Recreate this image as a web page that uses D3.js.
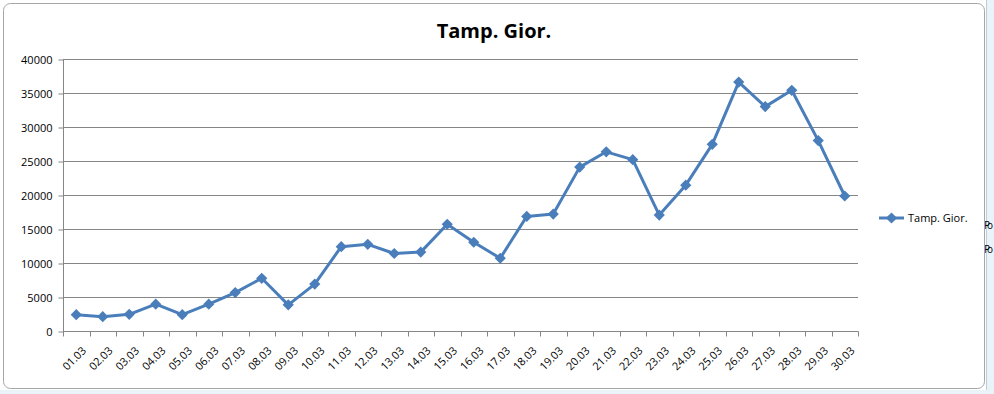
<!DOCTYPE html>
<html>
<head>
<meta charset="utf-8">
<style>
  body { margin: 0; background: #fff; }
  text { font-family: "Open Sans", "DejaVu Sans", sans-serif; fill: #000; }
  .title { font: bold 20px "Open Sans", sans-serif; }
  .axis text { font-size: 11px; }
  .axis path, .axis line { stroke: #868686; }
  .grid line { stroke: #868686; }
</style>
</head>
<body>
<script src="https://cdn.jsdelivr.net/npm/d3@7"></script>
<script>
var days = ["01.03","02.03","03.03","04.03","05.03","06.03","07.03","08.03","09.03","10.03",
            "11.03","12.03","13.03","14.03","15.03","16.03","17.03","18.03","19.03","20.03",
            "21.03","22.03","23.03","24.03","25.03","26.03","27.03","28.03","29.03","30.03"];
var values = [2400, 2100, 2450, 3950, 2400, 3950, 5650, 7750, 3850, 6900,
              12400, 12750, 11400, 11600, 15700, 13050, 10700, 16850, 17200, 24100,
              26350, 25200, 17050, 21450, 27450, 36600, 33000, 35400, 28000, 19850];
var yTicks = [0, 5000, 10000, 15000, 20000, 25000, 30000, 35000, 40000];
var seriesName = "Tamp. Gior.";
var title = "Tamp. Gior.";

var width = 994, height = 394;
var blue = "#4a7ebb";

var svg = d3.select("body").append("svg")
  .attr("width", width)
  .attr("height", height);

// spreadsheet bits around the chart object
svg.append("rect").attr("x", 986).attr("y", 0).attr("width", 8).attr("height", height).attr("fill", "#eaf4f8");
svg.append("line").attr("x1", 986.5).attr("x2", 986.5).attr("y1", 0).attr("y2", height).attr("stroke", "#b8cfd8");
svg.append("rect").attr("x", 0).attr("y", 390).attr("width", width).attr("height", 4).attr("fill", "#eaf4f8");
svg.append("text").attr("x", 984).attr("y", 229).attr("font-size", 10).attr("textLength", 9).text("Po");
svg.append("text").attr("x", 984).attr("y", 253).attr("font-size", 10).attr("textLength", 9).text("Po");

// chart border
svg.append("rect")
  .attr("x", 3.5).attr("y", 3.5)
  .attr("width", 981).attr("height", 385)
  .attr("rx", 7).attr("ry", 7)
  .attr("fill", "#fff")
  .attr("stroke", "#a6a6a6");

svg.append("text")
  .attr("class", "title")
  .attr("x", 494).attr("y", 38)
  .attr("text-anchor", "middle")
  .text(title);

var x = d3.scaleBand().domain(days).range([63, 858]);
var y = d3.scaleLinear().domain([0, 40000]).range([331, 59]);

// gridlines
svg.append("g").attr("class", "grid")
  .selectAll("line").data(yTicks.slice(1)).enter().append("line")
  .attr("x1", 63).attr("x2", 858)
  .attr("y1", function(d) { return Math.round(y(d)) + 0.5; })
  .attr("y2", function(d) { return Math.round(y(d)) + 0.5; });

// y axis
var yAxis = svg.append("g").attr("class", "axis")
  .attr("transform", "translate(63.5,0.5)")
  .call(d3.axisLeft(y).tickValues(yTicks).tickFormat(d3.format("d"))
    .tickSize(5).tickSizeOuter(0).tickPadding(6));
yAxis.select(".domain").attr("d", "M0," + y(40000) + "V" + y(0));

// x axis, ticks on band edges
var xAxis = svg.append("g").attr("class", "axis")
  .attr("transform", "translate(0,331.5)");
xAxis.append("line").attr("x1", 63).attr("x2", 858.5).attr("y1", 0).attr("y2", 0);
xAxis.selectAll(".tk").data(days.concat(["end"])).enter().append("line")
  .attr("class", "tk")
  .attr("x1", function(d, i) { return Math.round(63 + i * x.step()) + 0.5; })
  .attr("x2", function(d, i) { return Math.round(63 + i * x.step()) + 0.5; })
  .attr("y1", 0).attr("y2", 5);
xAxis.selectAll("text").data(days).enter().append("text")
  .attr("text-anchor", "end")
  .attr("transform", function(d) {
    return "translate(" + (x(d) + x.bandwidth() / 2 + 8) + ",17) rotate(-45)";
  })
  .attr("dy", "0.35em")
  .text(function(d) { return d; });

// series line
var line = d3.line()
  .x(function(d, i) { return x(days[i]) + x.bandwidth() / 2; })
  .y(function(d) { return y(d); });

svg.append("path")
  .datum(values)
  .attr("d", line)
  .attr("fill", "none")
  .attr("stroke", blue)
  .attr("stroke-width", 3)
  .attr("stroke-linejoin", "round");

var diamond = d3.symbol().type(d3.symbolDiamond2).size(80);
svg.append("g").selectAll("path").data(values).enter().append("path")
  .attr("d", diamond)
  .attr("fill", blue)
  .attr("transform", function(d, i) {
    return "translate(" + (x(days[i]) + x.bandwidth() / 2) + "," + y(d) + ")";
  });

// legend
var lg = svg.append("g").attr("transform", "translate(879,218)");
lg.append("line").attr("x1", 0).attr("x2", 25).attr("y1", 0).attr("y2", 0)
  .attr("stroke", blue).attr("stroke-width", 3);
lg.append("path").attr("d", diamond).attr("fill", blue).attr("transform", "translate(12.5,0)");
lg.append("text").attr("x", 29).attr("y", 0).attr("dy", "0.35em")
  .attr("font-size", 11).text(seriesName);
</script>
</body>
</html>
